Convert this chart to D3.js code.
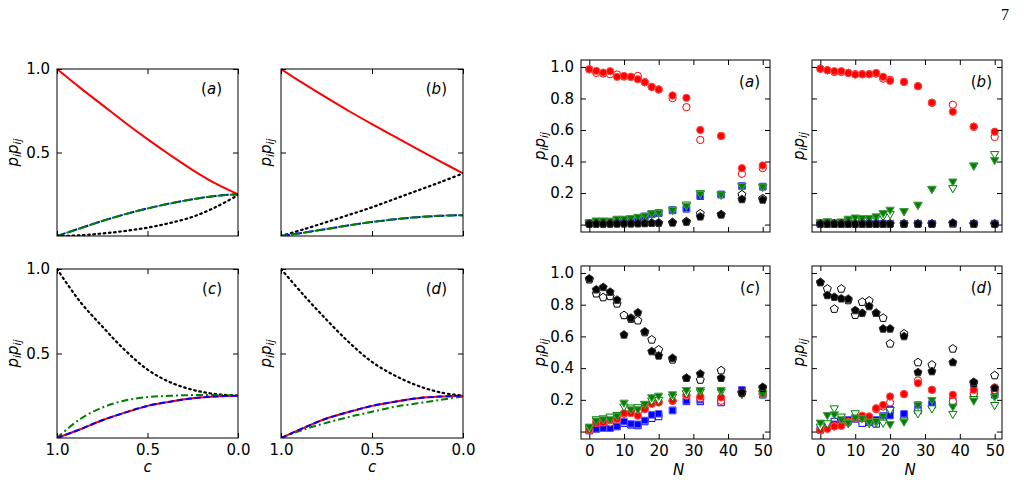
<!DOCTYPE html>
<html><head><meta charset="utf-8">
<script src="https://cdn.jsdelivr.net/npm/d3@7"></script>
<style>
body{margin:0;background:#fff;}
svg{display:block;font-family:"DejaVu Sans",sans-serif;}
</style></head><body>
<svg id="chart" width="1018" height="482"></svg>
<script>
// ---------- Data: left (analytic) panels ----------
const cValues = [1.0, 0.875, 0.75, 0.625, 0.5, 0.375, 0.25, 0.125, 0.0];
const cTicks = [1.0, 0.5, 0.0];
const leftYTicks = [0.5, 1.0];

const la_red   = [1.0, 0.89, 0.785, 0.68, 0.58, 0.485, 0.395, 0.315, 0.25];
const la_blue  = [0.0, 0.045, 0.09, 0.13, 0.165, 0.195, 0.22, 0.24, 0.25];
const la_green = [0.0, 0.045, 0.09, 0.13, 0.165, 0.195, 0.22, 0.24, 0.25];
const la_black = [0.0, 0.004, 0.015, 0.03, 0.05, 0.078, 0.115, 0.172, 0.245];

const lb_red   = [1.0, 0.912, 0.828, 0.747, 0.67, 0.595, 0.52, 0.447, 0.375];
const lb_blue  = [0.0, 0.02, 0.042, 0.064, 0.084, 0.1, 0.113, 0.121, 0.125];
const lb_green = [0.0, 0.02, 0.042, 0.064, 0.084, 0.1, 0.113, 0.121, 0.125];
const lb_black = [0.0, 0.04, 0.083, 0.127, 0.172, 0.222, 0.272, 0.322, 0.375];

const lc_red   = [0.0, 0.05, 0.105, 0.15, 0.19, 0.215, 0.235, 0.246, 0.25];
const lc_blue  = [0.0, 0.05, 0.105, 0.15, 0.19, 0.215, 0.235, 0.246, 0.25];
const lc_green = [0.0, 0.11, 0.18, 0.222, 0.242, 0.25, 0.254, 0.254, 0.25];
const lc_black = [1.0, 0.81, 0.66, 0.52, 0.405, 0.33, 0.285, 0.26, 0.25];

const ld_red   = [0.0, 0.06, 0.115, 0.155, 0.19, 0.215, 0.235, 0.245, 0.25];
const ld_blue  = [0.0, 0.06, 0.115, 0.155, 0.19, 0.215, 0.235, 0.245, 0.25];
const ld_green = [0.0, 0.05, 0.09, 0.125, 0.155, 0.185, 0.205, 0.225, 0.245];
const ld_black = [1.0, 0.845, 0.70, 0.565, 0.45, 0.37, 0.31, 0.27, 0.25];

// ---------- Data: right (simulation) panels ----------
const Nvalues = [0, 2, 4, 6, 8, 10, 12, 14, 16, 18, 20, 24, 28, 32, 38, 44, 50];
const Nticks = [0, 10, 20, 30, 40, 50];
const rightYTicks = [0, 0.2, 0.4, 0.6, 0.8, 1.0];

const ra_redF   = [0.985,0.975,0.964,0.973,0.937,0.943,0.937,0.922,0.903,0.872,0.857,0.819,0.804,0.600,0.562,0.358,0.375];
const ra_redO   = [0.985,0.962,0.958,0.954,0.952,0.939,0.937,0.943,0.903,0.874,0.857,0.802,0.745,0.537,0.562,0.322,0.358];
const ra_blueF  = [0.010,0.017,0.017,0.019,0.025,0.027,0.032,0.038,0.053,0.067,0.074,0.093,0.103,0.183,0.192,0.246,0.242];
const ra_blueO  = [0.008,0.015,0.015,0.017,0.022,0.025,0.030,0.035,0.050,0.065,0.072,0.090,0.100,0.180,0.190,0.245,0.240];
const ra_greenF = [0.017,0.027,0.027,0.025,0.038,0.038,0.042,0.050,0.057,0.072,0.076,0.093,0.120,0.196,0.192,0.246,0.242];
const ra_greenO = [0.012,0.022,0.022,0.022,0.032,0.035,0.040,0.045,0.055,0.070,0.075,0.095,0.128,0.200,0.190,0.245,0.240];
const ra_blackF = [0.003,0.004,0.004,0.005,0.005,0.006,0.006,0.007,0.008,0.010,0.010,0.012,0.017,0.050,0.063,0.160,0.157];
const ra_blackO = [0.005,0.005,0.006,0.006,0.007,0.007,0.007,0.008,0.009,0.010,0.011,0.014,0.020,0.070,0.064,0.190,0.165];

const rb_redF   = [0.989,0.979,0.973,0.973,0.962,0.952,0.954,0.954,0.962,0.937,0.912,0.905,0.878,0.773,0.716,0.621,0.589];
const rb_redO   = [0.989,0.979,0.968,0.968,0.962,0.954,0.954,0.954,0.958,0.926,0.918,0.905,0.878,0.773,0.760,0.621,0.556];
const rb_blueF  = [0.005,0.005,0.005,0.005,0.005,0.005,0.005,0.005,0.005,0.005,0.005,0.005,0.005,0.005,0.005,0.005,0.005];
const rb_blueO  = [0.006,0.006,0.006,0.006,0.006,0.006,0.006,0.006,0.006,0.006,0.006,0.006,0.006,0.006,0.006,0.006,0.006];
const rb_greenF = [0.010,0.021,0.017,0.021,0.038,0.046,0.042,0.042,0.053,0.074,0.095,0.086,0.126,0.227,0.274,0.375,0.410];
const rb_greenO = [0.015,0.021,0.010,0.015,0.032,0.025,0.036,0.036,0.042,0.053,0.067,0.086,0.126,0.227,0.232,0.375,0.448];
const rb_blackF = [0.004,0.004,0.004,0.004,0.004,0.004,0.004,0.004,0.004,0.004,0.004,0.004,0.004,0.004,0.010,0.004,0.004];
const rb_blackO = [0.005,0.005,0.005,0.005,0.005,0.005,0.005,0.005,0.005,0.005,0.005,0.005,0.005,0.005,0.008,0.005,0.005];

const rc_redF   = [0.010,0.053,0.057,0.070,0.078,0.116,0.116,0.100,0.141,0.175,0.183,0.194,0.232,0.221,0.215,0.246,0.236];
const rc_redO   = [0.010,0.063,0.067,0.057,0.084,0.112,0.120,0.126,0.147,0.179,0.187,0.194,0.225,0.210,0.194,0.242,0.238];
const rc_blueF  = [0.010,0.017,0.021,0.021,0.032,0.063,0.048,0.046,0.070,0.105,0.112,0.133,0.194,0.200,0.200,0.263,0.236];
const rc_blueO  = [0.006,0.017,0.027,0.025,0.032,0.053,0.042,0.038,0.063,0.084,0.095,0.133,0.190,0.190,0.183,0.259,0.232];
const rc_greenF = [0.032,0.070,0.078,0.078,0.100,0.183,0.141,0.141,0.175,0.217,0.227,0.236,0.263,0.263,0.263,0.238,0.238];
const rc_greenO = [0.021,0.078,0.084,0.095,0.105,0.158,0.152,0.154,0.175,0.196,0.200,0.221,0.242,0.253,0.253,0.238,0.242];
const rc_blackF = [0.964,0.895,0.910,0.880,0.830,0.610,0.716,0.750,0.630,0.505,0.478,0.463,0.337,0.364,0.337,0.246,0.280];
const rc_blackO = [0.958,0.870,0.846,0.853,0.806,0.733,0.710,0.700,0.625,0.579,0.516,0.453,0.337,0.326,0.385,0.242,0.274];

const rd_redF   = [0.010,0.017,0.032,0.036,0.057,0.084,0.100,0.095,0.147,0.168,0.221,0.236,0.305,0.263,0.232,0.263,0.278];
const rd_redO   = [0.010,0.021,0.036,0.042,0.063,0.084,0.084,0.078,0.141,0.158,0.183,0.236,0.322,0.263,0.190,0.238,0.263];
const rd_blueF  = [0.017,0.042,0.046,0.053,0.074,0.078,0.084,0.063,0.074,0.100,0.100,0.112,0.168,0.175,0.196,0.267,0.242];
const rd_blueO  = [0.010,0.036,0.063,0.063,0.070,0.084,0.053,0.059,0.048,0.080,0.137,0.105,0.133,0.168,0.183,0.246,0.232];
const rd_greenF = [0.057,0.105,0.109,0.078,0.057,0.090,0.084,0.063,0.067,0.100,0.048,0.063,0.168,0.200,0.158,0.196,0.221];
const rd_greenO = [0.032,0.053,0.147,0.095,0.053,0.116,0.084,0.053,0.059,0.057,0.137,0.070,0.116,0.147,0.112,0.206,0.168];
const rd_blackF = [0.941,0.859,0.848,0.838,0.836,0.764,0.747,0.789,0.747,0.648,0.648,0.600,0.373,0.379,0.436,0.312,0.274];
const rd_blackO = [0.941,0.900,0.773,0.900,0.827,0.735,0.817,0.825,0.747,0.716,0.554,0.617,0.436,0.421,0.522,0.305,0.354];

// ---------- Drawing ----------
const svg = d3.select("#chart");
const FS = 15;

function frame(g, x0, y0, x1, y1) {
  g.append("rect").attr("x", x0).attr("y", y0).attr("width", x1 - x0).attr("height", y1 - y0)
    .attr("fill", "none").attr("stroke", "#000").attr("stroke-width", 1);
}

function yLabel(x, yc) {
  const t = svg.append("text").attr("transform", `translate(${x},${yc}) rotate(-90)`)
    .attr("text-anchor", "middle").attr("font-size", FS);
  t.append("tspan").attr("font-style", "italic").text("p");
  t.append("tspan").attr("font-style", "italic").attr("font-size", 10.5).attr("dy", 3).text("i");
  t.append("tspan").attr("font-style", "italic").attr("dy", -3).text("p");
  t.append("tspan").attr("font-style", "italic").attr("font-size", 10.5).attr("dy", 3).text("ij");
}

function panelLabel(xEnd, yBase, letter) {
  const t = svg.append("text").attr("x", xEnd).attr("y", yBase).attr("text-anchor", "end").attr("font-size", FS);
  t.append("tspan").text("(");
  t.append("tspan").attr("font-style", "italic").text(letter);
  t.append("tspan").text(")");
}

function axes(g, x, y, xt, yt, showX, showY, xfmt, yfmt, xpad) {
  const [xa, xb] = x.range(), [ya, yb] = y.range(); // ya bottom, yb top
  const mk = (ax) => ax.call(s => s.select(".domain").remove())
    .call(s => s.selectAll("line").attr("stroke", "#000").attr("stroke-width", 1))
    .call(s => s.selectAll("text").attr("font-size", FS).attr("fill", "#000").attr("font-family", "DejaVu Sans"));
  g.append("g").attr("transform", `translate(0,${ya})`)
    .call(d3.axisBottom(x).tickValues(xt).tickSize(-5).tickPadding(xpad).tickFormat(showX ? xfmt : () => "")).call(mk);
  g.append("g").attr("transform", `translate(0,${yb})`)
    .call(d3.axisTop(x).tickValues(xt).tickSize(-5).tickFormat(() => "")).call(mk);
  g.append("g").attr("transform", `translate(${xa},0)`)
    .call(d3.axisLeft(y).tickValues(yt).tickSize(-5).tickPadding(7).tickFormat(showY ? yfmt : () => "")).call(mk);
  g.append("g").attr("transform", `translate(${xb},0)`)
    .call(d3.axisRight(y).tickValues(yt).tickSize(-5).tickFormat(() => "")).call(mk);
}

// Left panels
const leftPanels = [
  {x0: 57, x1: 238, y0: 69, y1: 236, L: "a", showX: false, showY: true, ylx: 18,
   lines: [["red", la_red, "solid"], ["blue", la_blue, "dash"], ["green", la_green, "dash2"], ["black", la_black, "dot"]]},
  {x0: 281, x1: 463, y0: 69, y1: 236, L: "b", showX: false, showY: false, ylx: 271,
   lines: [["red", lb_red, "solid"], ["black", lb_black, "dot"], ["blue", lb_blue, "dash"], ["green", lb_green, "dash2"]]},
  {x0: 57, x1: 238, y0: 269, y1: 438, L: "c", showX: true, showY: true, ylx: 18,
   lines: [["black", lc_black, "dot"], ["green", lc_green, "dashdot"], ["red", lc_red, "solid"], ["blue", lc_blue, "dashb"]]},
  {x0: 281, x1: 463, y0: 269, y1: 438, L: "d", showX: true, showY: false, ylx: 271,
   lines: [["black", ld_black, "dot"], ["green", ld_green, "dashdot"], ["red", ld_red, "solid"], ["blue", ld_blue, "dashb"]]}
];
const colorMap = {red: "#ff0000", blue: "#0000ff", green: "#008000", black: "#000000"};
const dashMap = {solid: null, dash: "9,3", dash2: "9,3", dashb: "6,3", dot: "1.6,3.6", dashdot: "7,3,2,3"};

leftPanels.forEach(p => {
  const g = svg.append("g");
  const x = d3.scaleLinear().domain([1, 0]).range([p.x0, p.x1]);
  const y = d3.scaleLinear().domain([0, 1]).range([p.y1, p.y0]);
  const clipId = "clipL" + p.L;
  svg.append("clipPath").attr("id", clipId).append("rect")
    .attr("x", p.x0).attr("y", p.y0 - 2).attr("width", p.x1 - p.x0).attr("height", p.y1 - p.y0 + 2);
  const lg = g.append("g").attr("clip-path", `url(#${clipId})`);
  p.lines.forEach(([col, vals, style]) => {
    const line = d3.line().x((d, i) => x(cValues[i])).y(d => y(d)).curve(d3.curveCatmullRom.alpha(0.5));
    const path = lg.append("path").datum(vals).attr("d", line).attr("fill", "none")
      .attr("stroke", colorMap[col]).attr("stroke-width", style === "dot" ? 2.2 : 2);
    if (dashMap[style]) path.attr("stroke-dasharray", dashMap[style]);
    if (style === "dash2") path.attr("stroke-dashoffset", 2);
    if (style === "dot") path.attr("stroke-linecap", "round");
  });
  axes(g, x, y, cTicks, leftYTicks, p.showX, p.showY, d3.format(".1f"), d3.format(".1f"), 6);
  frame(g, p.x0, p.y0, p.x1, p.y1);
  panelLabel(p.x1 - 16, p.y0 + 25, p.L);
  yLabel(p.ylx, (p.y0 + p.y1) / 2);
  if (p.showX) {
    svg.append("text").attr("x", (p.x0 + p.x1) / 2).attr("y", 472).attr("text-anchor", "middle")
      .attr("font-size", FS).attr("font-style", "italic").text("c");
  }
});

// Right panels
function triDown(r) {
  return `M${-r * 0.866},${-r * 0.5}L${r * 0.866},${-r * 0.5}L0,${r}Z`;
}
function pentagon(r) {
  let s = "";
  for (let k = 0; k < 5; k++) {
    const a = -Math.PI / 2 + k * 2 * Math.PI / 5;
    s += (k ? "L" : "M") + (r * Math.cos(a)).toFixed(2) + "," + (r * Math.sin(a)).toFixed(2);
  }
  return s + "Z";
}
const shapes = {
  red: d3.symbol(d3.symbolCircle, 42)(),
  blue: d3.symbol(d3.symbolSquare, 42)(),
  green: triDown(4.8),
  black: pentagon(4.2)
};
const lighter = {red: "#ff4d4d", blue: "#5a5aff", green: "#4d9a4d", black: "#333"};

const rightPanels = [
  {x0: 581, x1: 770, y0: 60, y1: 232, L: "a", showX: false, showY: true, ylx: 545,
   s: {red: [ra_redF, ra_redO], blue: [ra_blueF, ra_blueO], green: [ra_greenF, ra_greenO], black: [ra_blackF, ra_blackO]}},
  {x0: 812, x1: 1002, y0: 60, y1: 232, L: "b", showX: false, showY: false, ylx: 804,
   s: {red: [rb_redF, rb_redO], blue: [rb_blueF, rb_blueO], green: [rb_greenF, rb_greenO], black: [rb_blackF, rb_blackO]}},
  {x0: 581, x1: 770, y0: 266, y1: 439, L: "c", showX: true, showY: true, ylx: 545,
   s: {red: [rc_redF, rc_redO], blue: [rc_blueF, rc_blueO], green: [rc_greenF, rc_greenO], black: [rc_blackF, rc_blackO]}},
  {x0: 812, x1: 1002, y0: 266, y1: 439, L: "d", showX: true, showY: false, ylx: 804,
   s: {red: [rd_redF, rd_redO], blue: [rd_blueF, rd_blueO], green: [rd_greenF, rd_greenO], black: [rd_blackF, rd_blackO]}}
];

rightPanels.forEach(p => {
  const g = svg.append("g");
  const x = d3.scaleLinear().domain([-2.4, 52.1]).range([p.x0, p.x1]);
  const y = d3.scaleLinear().domain([-0.047, 1.044]).range([p.y1, p.y0]);
  const mg = g.append("g");
  ["blue", "red", "green", "black"].forEach(col => {
    const [filled, open] = p.s[col];
    mg.selectAll(null).data(open).enter().append("path")
      .attr("d", shapes[col]).attr("transform", (d, i) => `translate(${x(Nvalues[i])},${y(d)})`)
      .attr("fill", "#fff").attr("stroke", colorMap[col]).attr("stroke-width", 1);
    mg.selectAll(null).data(filled).enter().append("path")
      .attr("d", shapes[col]).attr("transform", (d, i) => `translate(${x(Nvalues[i])},${y(d)})`)
      .attr("fill", colorMap[col]).attr("stroke", lighter[col]).attr("stroke-width", 1);
  });
  axes(g, x, y, Nticks, rightYTicks, p.showX, p.showY, d3.format("d"), d => d === 0 ? "" : d3.format(".1f")(d), 6);
  frame(g, p.x0, p.y0, p.x1, p.y1);
  panelLabel(p.x1 - 10, p.y0 + 27, p.L);
  yLabel(p.ylx, (p.y0 + p.y1) / 2);
  if (p.showX) {
    svg.append("text").attr("x", (p.x0 + p.x1) / 2 + 3).attr("y", 475).attr("text-anchor", "middle")
      .attr("font-size", FS).attr("font-style", "italic").text("N");
  }
});

// page number
svg.append("text").attr("x", 1005).attr("y", 20).attr("text-anchor", "middle")
  .attr("font-family", "Liberation Serif, serif").attr("font-size", 16).text("7");
</script>
</body></html>
